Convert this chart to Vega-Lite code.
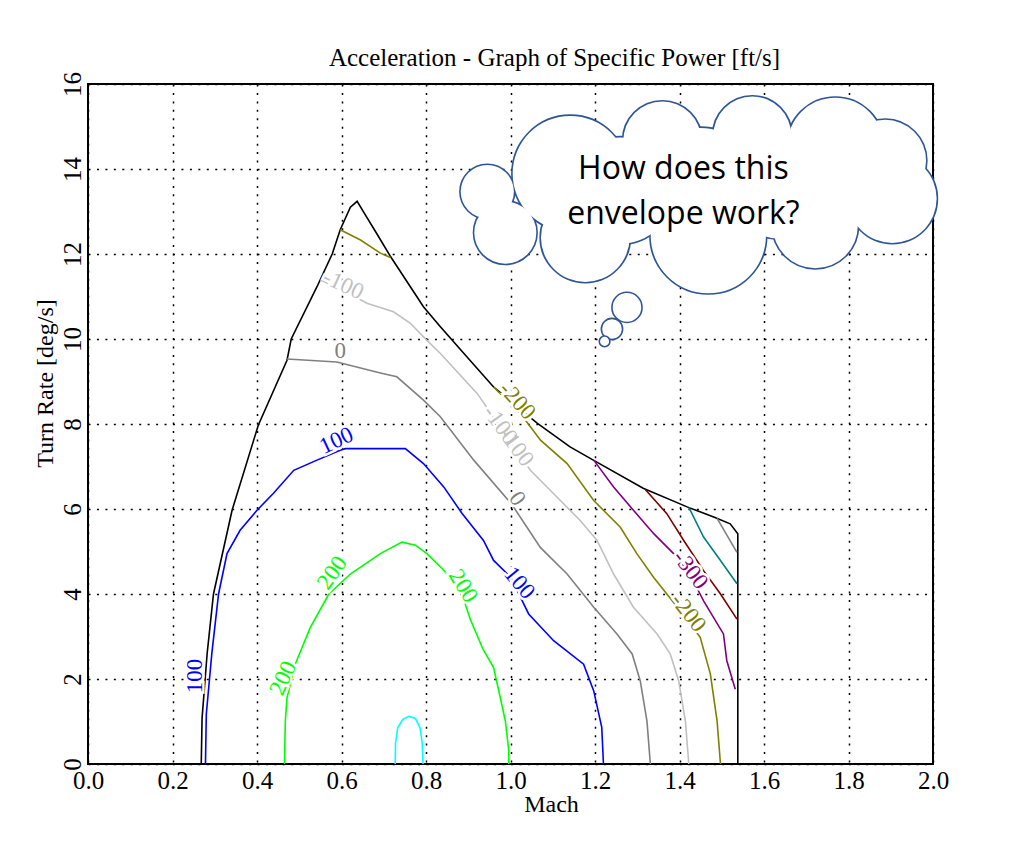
{
  "$schema": "https://vega.github.io/schema/vega-lite/v6.json",
  "width": 845,
  "height": 680,
  "autosize": {"type": "none"},
  "padding": {"left": 88, "top": 84, "right": 89, "bottom": 88},
  "background": "white",
  "title": {"text": "Acceleration - Graph of Specific Power [ft/s]", "font": "Liberation Serif", "fontSize": 25, "fontWeight": "normal", "color": "black", "anchor": "middle", "frame": "group", "dx": 44, "dy": 35, "offset": 16, "baseline": "alphabetic"},
  "config": {
    "view": {"stroke": "black", "strokeWidth": 2},
    "axis": {"domain": false, "ticks": false, "tickSize": 0, "grid": true, "gridColor": "black", "gridDash": [2, 6.45], "gridWidth": 1.5, "gridOpacity": 1, "labelFont": "Liberation Serif", "labelFontSize": 25, "labelColor": "black", "titleFont": "Liberation Serif", "titleFontSize": 24, "titleFontWeight": "normal", "titleColor": "black", "labelFlush": false, "labelOverlap": false},
    "axisX": {"labelPadding": 4, "labelBaseline": "top", "titleX": 463, "titleY": 47, "titleBaseline": "alphabetic", "titleAlign": "center"},
    "axisY": {"labelAngle": 270, "labelAlign": "center", "labelBaseline": "alphabetic", "labelPadding": 8, "titleAngle": 270, "titleX": -36, "titleY": 299, "titleAlign": "center", "titleBaseline": "alphabetic"}
  },
  "datasets": {
    "lines": [
      {"lvl":"env","seg":"env","o":1,"m":0.268,"t":0},
      {"lvl":"env","seg":"env","o":2,"m":0.270,"t":1.08},
      {"lvl":"env","seg":"env","o":3,"m":0.282,"t":2.6},
      {"lvl":"env","seg":"env","o":4,"m":0.297,"t":4.0},
      {"lvl":"env","seg":"env","o":5,"m":0.341,"t":5.97},
      {"lvl":"env","seg":"env","o":6,"m":0.403,"t":7.97},
      {"lvl":"env","seg":"env","o":7,"m":0.471,"t":9.5},
      {"lvl":"env","seg":"env","o":8,"m":0.481,"t":10.0},
      {"lvl":"env","seg":"env","o":9,"m":0.542,"t":11.23},
      {"lvl":"env","seg":"env","o":10,"m":0.578,"t":12.0},
      {"lvl":"env","seg":"env","o":11,"m":0.597,"t":12.57},
      {"lvl":"env","seg":"env","o":12,"m":0.621,"t":13.1},
      {"lvl":"env","seg":"env","o":13,"m":0.637,"t":13.24},
      {"lvl":"env","seg":"env","o":14,"m":0.660,"t":12.86},
      {"lvl":"env","seg":"env","o":15,"m":0.684,"t":12.47},
      {"lvl":"env","seg":"env","o":16,"m":0.716,"t":11.94},
      {"lvl":"env","seg":"env","o":17,"m":0.794,"t":10.76},
      {"lvl":"env","seg":"env","o":18,"m":0.834,"t":10.29},
      {"lvl":"env","seg":"env","o":19,"m":0.905,"t":9.49},
      {"lvl":"env","seg":"env","o":20,"m":0.960,"t":8.87},
      {"lvl":"env","seg":"env","o":21,"m":1.063,"t":8.02},
      {"lvl":"env","seg":"env","o":22,"m":1.141,"t":7.46},
      {"lvl":"env","seg":"env","o":23,"m":1.196,"t":7.15},
      {"lvl":"env","seg":"env","o":24,"m":1.314,"t":6.49},
      {"lvl":"env","seg":"env","o":25,"m":1.418,"t":6.05},
      {"lvl":"env","seg":"env","o":26,"m":1.481,"t":5.81},
      {"lvl":"env","seg":"env","o":27,"m":1.520,"t":5.65},
      {"lvl":"env","seg":"env","o":28,"m":1.538,"t":5.42},
      {"lvl":"env","seg":"env","o":29,"m":1.538,"t":0},

      {"lvl":"300","seg":"300","o":1,"m":0.727,"t":0},
      {"lvl":"300","seg":"300","o":2,"m":0.728,"t":0.5},
      {"lvl":"300","seg":"300","o":3,"m":0.733,"t":0.85},
      {"lvl":"300","seg":"300","o":4,"m":0.745,"t":1.05},
      {"lvl":"300","seg":"300","o":5,"m":0.760,"t":1.12},
      {"lvl":"300","seg":"300","o":6,"m":0.775,"t":1.07},
      {"lvl":"300","seg":"300","o":7,"m":0.786,"t":0.85},
      {"lvl":"300","seg":"300","o":8,"m":0.791,"t":0.5},
      {"lvl":"300","seg":"300","o":9,"m":0.793,"t":0},

      {"lvl":"200","seg":"200","o":1,"m":0.465,"t":0},
      {"lvl":"200","seg":"200","o":2,"m":0.467,"t":1.0},
      {"lvl":"200","seg":"200","o":3,"m":0.471,"t":1.56},
      {"lvl":"200","seg":"200","o":4,"m":0.491,"t":2.36},
      {"lvl":"200","seg":"200","o":5,"m":0.526,"t":3.21},
      {"lvl":"200","seg":"200","o":6,"m":0.570,"t":4.0},
      {"lvl":"200","seg":"200","o":7,"m":0.621,"t":4.47},
      {"lvl":"200","seg":"200","o":8,"m":0.692,"t":4.95},
      {"lvl":"200","seg":"200","o":9,"m":0.743,"t":5.22},
      {"lvl":"200","seg":"200","o":10,"m":0.775,"t":5.15},
      {"lvl":"200","seg":"200","o":11,"m":0.802,"t":4.95},
      {"lvl":"200","seg":"200","o":12,"m":0.838,"t":4.6},
      {"lvl":"200","seg":"200","o":13,"m":0.865,"t":4.3},
      {"lvl":"200","seg":"200","o":14,"m":0.885,"t":4.0},
      {"lvl":"200","seg":"200","o":15,"m":0.905,"t":3.4},
      {"lvl":"200","seg":"200","o":16,"m":0.935,"t":2.7},
      {"lvl":"200","seg":"200","o":17,"m":0.960,"t":2.27},
      {"lvl":"200","seg":"200","o":18,"m":0.975,"t":1.6},
      {"lvl":"200","seg":"200","o":19,"m":0.988,"t":1.0},
      {"lvl":"200","seg":"200","o":20,"m":0.996,"t":0.3},
      {"lvl":"200","seg":"200","o":21,"m":0.996,"t":0},

      {"lvl":"100","seg":"100","o":1,"m":0.278,"t":0},
      {"lvl":"100","seg":"100","o":2,"m":0.280,"t":1.17},
      {"lvl":"100","seg":"100","o":3,"m":0.293,"t":2.59},
      {"lvl":"100","seg":"100","o":4,"m":0.309,"t":4.0},
      {"lvl":"100","seg":"100","o":5,"m":0.329,"t":4.95},
      {"lvl":"100","seg":"100","o":6,"m":0.360,"t":5.5},
      {"lvl":"100","seg":"100","o":7,"m":0.400,"t":5.97},
      {"lvl":"100","seg":"100","o":8,"m":0.439,"t":6.37},
      {"lvl":"100","seg":"100","o":9,"m":0.487,"t":6.91},
      {"lvl":"100","seg":"100","o":10,"m":0.542,"t":7.15},
      {"lvl":"100","seg":"100","o":11,"m":0.597,"t":7.38},
      {"lvl":"100","seg":"100","o":12,"m":0.609,"t":7.42},
      {"lvl":"100","seg":"100","o":13,"m":0.751,"t":7.42},
      {"lvl":"100","seg":"100","o":14,"m":0.794,"t":7.07},
      {"lvl":"100","seg":"100","o":15,"m":0.842,"t":6.52},
      {"lvl":"100","seg":"100","o":16,"m":0.885,"t":5.9},
      {"lvl":"100","seg":"100","o":17,"m":0.936,"t":5.26},
      {"lvl":"100","seg":"100","o":18,"m":0.960,"t":4.79},
      {"lvl":"100","seg":"100","o":19,"m":1.000,"t":4.4},
      {"lvl":"100","seg":"100","o":20,"m":1.043,"t":3.53},
      {"lvl":"100","seg":"100","o":21,"m":1.102,"t":2.9},
      {"lvl":"100","seg":"100","o":22,"m":1.173,"t":2.35},
      {"lvl":"100","seg":"100","o":23,"m":1.197,"t":1.72},
      {"lvl":"100","seg":"100","o":24,"m":1.216,"t":0.86},
      {"lvl":"100","seg":"100","o":25,"m":1.220,"t":0},

      {"lvl":"0","seg":"0","o":1,"m":0.471,"t":9.53},
      {"lvl":"0","seg":"0","o":2,"m":0.589,"t":9.46},
      {"lvl":"0","seg":"0","o":3,"m":0.692,"t":9.2},
      {"lvl":"0","seg":"0","o":4,"m":0.731,"t":9.11},
      {"lvl":"0","seg":"0","o":5,"m":0.794,"t":8.56},
      {"lvl":"0","seg":"0","o":6,"m":0.834,"t":8.17},
      {"lvl":"0","seg":"0","o":7,"m":0.913,"t":7.15},
      {"lvl":"0","seg":"0","o":8,"m":1.003,"t":6.11},
      {"lvl":"0","seg":"0","o":9,"m":1.071,"t":5.09},
      {"lvl":"0","seg":"0","o":10,"m":1.134,"t":4.47},
      {"lvl":"0","seg":"0","o":11,"m":1.197,"t":3.69},
      {"lvl":"0","seg":"0","o":12,"m":1.252,"t":3.06},
      {"lvl":"0","seg":"0","o":13,"m":1.288,"t":2.59},
      {"lvl":"0","seg":"0","o":14,"m":1.307,"t":1.96},
      {"lvl":"0","seg":"0","o":15,"m":1.323,"t":1.01},
      {"lvl":"0","seg":"0","o":16,"m":1.331,"t":0},

      {"lvl":"-100","seg":"-100","o":1,"m":0.550,"t":11.39},
      {"lvl":"-100","seg":"-100","o":2,"m":0.604,"t":11.15},
      {"lvl":"-100","seg":"-100","o":3,"m":0.660,"t":10.84},
      {"lvl":"-100","seg":"-100","o":4,"m":0.723,"t":10.64},
      {"lvl":"-100","seg":"-100","o":5,"m":0.763,"t":10.37},
      {"lvl":"-100","seg":"-100","o":6,"m":0.794,"t":10.05},
      {"lvl":"-100","seg":"-100","o":7,"m":0.834,"t":9.66},
      {"lvl":"-100","seg":"-100","o":8,"m":0.858,"t":9.4},
      {"lvl":"-100","seg":"-100","o":9,"m":0.921,"t":8.72},
      {"lvl":"-100","seg":"-100","o":10,"m":0.985,"t":7.8},
      {"lvl":"-100","seg":"-100","o":11,"m":1.047,"t":6.91},
      {"lvl":"-100","seg":"-100","o":12,"m":1.094,"t":6.44},
      {"lvl":"-100","seg":"-100","o":13,"m":1.165,"t":5.73},
      {"lvl":"-100","seg":"-100","o":14,"m":1.205,"t":5.26},
      {"lvl":"-100","seg":"-100","o":15,"m":1.244,"t":4.47},
      {"lvl":"-100","seg":"-100","o":16,"m":1.291,"t":3.69},
      {"lvl":"-100","seg":"-100","o":17,"m":1.347,"t":3.06},
      {"lvl":"-100","seg":"-100","o":18,"m":1.378,"t":2.59},
      {"lvl":"-100","seg":"-100","o":19,"m":1.398,"t":1.96},
      {"lvl":"-100","seg":"-100","o":20,"m":1.414,"t":1.01},
      {"lvl":"-100","seg":"-100","o":21,"m":1.422,"t":0},

      {"lvl":"-200","seg":"-200top","o":1,"m":0.597,"t":12.57},
      {"lvl":"-200","seg":"-200top","o":2,"m":0.645,"t":12.33},
      {"lvl":"-200","seg":"-200top","o":3,"m":0.692,"t":12.02},
      {"lvl":"-200","seg":"-200top","o":4,"m":0.716,"t":11.92},

      {"lvl":"-200","seg":"-200","o":1,"m":0.960,"t":8.87},
      {"lvl":"-200","seg":"-200","o":2,"m":1.023,"t":8.25},
      {"lvl":"-200","seg":"-200","o":3,"m":1.071,"t":7.62},
      {"lvl":"-200","seg":"-200","o":4,"m":1.134,"t":7.07},
      {"lvl":"-200","seg":"-200","o":5,"m":1.197,"t":6.2},
      {"lvl":"-200","seg":"-200","o":6,"m":1.260,"t":5.57},
      {"lvl":"-200","seg":"-200","o":7,"m":1.299,"t":4.95},
      {"lvl":"-200","seg":"-200","o":8,"m":1.339,"t":4.39},
      {"lvl":"-200","seg":"-200","o":9,"m":1.370,"t":4.0},
      {"lvl":"-200","seg":"-200","o":10,"m":1.410,"t":3.5},
      {"lvl":"-200","seg":"-200","o":11,"m":1.449,"t":2.98},
      {"lvl":"-200","seg":"-200","o":12,"m":1.473,"t":2.12},
      {"lvl":"-200","seg":"-200","o":13,"m":1.489,"t":1.01},
      {"lvl":"-200","seg":"-200","o":14,"m":1.497,"t":0},

      {"lvl":"-300","seg":"-300","o":1,"m":1.197,"t":7.15},
      {"lvl":"-300","seg":"-300","o":2,"m":1.244,"t":6.52},
      {"lvl":"-300","seg":"-300","o":3,"m":1.291,"t":5.97},
      {"lvl":"-300","seg":"-300","o":4,"m":1.339,"t":5.42},
      {"lvl":"-300","seg":"-300","o":5,"m":1.386,"t":4.95},
      {"lvl":"-300","seg":"-300","o":6,"m":1.425,"t":4.45},
      {"lvl":"-300","seg":"-300","o":7,"m":1.457,"t":3.84},
      {"lvl":"-300","seg":"-300","o":8,"m":1.504,"t":3.06},
      {"lvl":"-300","seg":"-300","o":9,"m":1.512,"t":2.43},
      {"lvl":"-300","seg":"-300","o":10,"m":1.532,"t":1.76},

      {"lvl":"-400","seg":"-400","o":1,"m":1.319,"t":6.46},
      {"lvl":"-400","seg":"-400","o":2,"m":1.370,"t":5.89},
      {"lvl":"-400","seg":"-400","o":3,"m":1.410,"t":5.26},
      {"lvl":"-400","seg":"-400","o":4,"m":1.457,"t":4.55},
      {"lvl":"-400","seg":"-400","o":5,"m":1.497,"t":4.0},
      {"lvl":"-400","seg":"-400","o":6,"m":1.536,"t":3.41},

      {"lvl":"-500","seg":"-500","o":1,"m":1.422,"t":6.04},
      {"lvl":"-500","seg":"-500","o":2,"m":1.457,"t":5.34},
      {"lvl":"-500","seg":"-500","o":3,"m":1.497,"t":4.79},
      {"lvl":"-500","seg":"-500","o":4,"m":1.536,"t":4.24},

      {"lvl":"-600","seg":"-600","o":1,"m":1.489,"t":5.78},
      {"lvl":"-600","seg":"-600","o":2,"m":1.536,"t":4.98}
    ],
    "labels": [
      {"m":0.604,"t":11.28,"txt":"-100","lvl":"-100","a":25},
      {"m":0.597,"t":9.72,"txt":"0","lvl":"0","a":0},
      {"m":0.588,"t":7.61,"txt":"100","lvl":"100","a":-25},
      {"m":0.254,"t":2.07,"txt":"100","lvl":"100","a":-90},
      {"m":0.462,"t":2.02,"txt":"200","lvl":"200","a":-65},
      {"m":0.578,"t":4.50,"txt":"200","lvl":"200","a":-55},
      {"m":0.888,"t":4.19,"txt":"200","lvl":"200","a":58},
      {"m":1.021,"t":4.26,"txt":"100","lvl":"100","a":50},
      {"m":1.016,"t":6.24,"txt":"0","lvl":"0","a":55},
      {"m":0.976,"t":7.98,"txt":"-100","lvl":"-100","a":54},
      {"m":1.014,"t":7.46,"txt":"-100","lvl":"-100","a":54},
      {"m":1.016,"t":8.55,"txt":"-200","lvl":"-200","a":48},
      {"m":1.426,"t":4.57,"txt":"-300","lvl":"-300","a":52},
      {"m":1.421,"t":3.56,"txt":"-200","lvl":"-200","a":52}
    ],
    "cloud": [
      {"b":"K","m":0.9451,"t":13.468},
      {"b":"J","m":0.9877,"t":12.503},
      {"b":"A","m":1.1415,"t":13.892},
      {"b":"B","m":1.3593,"t":14.669},
      {"b":"C","m":1.5723,"t":14.787},
      {"b":"D","m":1.7688,"t":14.551},
      {"b":"E","m":1.8871,"t":14.198},
      {"b":"F","m":1.9037,"t":13.303},
      {"b":"G","m":1.7214,"t":12.668},
      {"b":"H","m":1.4682,"t":12.432},
      {"b":"I","m":1.1770,"t":12.385},
      {"b":"P1","m":1.2599,"t":13.492},
      {"b":"P2","m":1.4492,"t":13.610},
      {"b":"P3","m":1.6386,"t":13.610},
      {"b":"Q","m":1.7688,"t":13.374}
    ],
    "bubbles": [
      {"b":"b1","m":1.2757,"t":10.744},
      {"b":"b2","m":1.2402,"t":10.235},
      {"b":"b3","m":1.2227,"t":9.944}
    ],
    "thought": [
      {"m":1.4093,"t":14.01,"txt":"How does this"},
      {"m":1.4093,"t":12.95,"txt":"envelope work?"}
    ]
  },
  "encoding": {
    "x": {"field": "m", "type": "quantitative", "scale": {"domain": [0, 2], "nice": false, "zero": false}, "axis": {"title": "Mach", "values": [0, 0.2, 0.4, 0.6, 0.8, 1.0, 1.2, 1.4, 1.6, 1.8, 2.0], "format": ".1f"}},
    "y": {"field": "t", "type": "quantitative", "scale": {"domain": [0, 16], "nice": false, "zero": false}, "axis": {"title": "Turn Rate [deg/s]", "values": [0, 2, 4, 6, 8, 10, 12, 14, 16], "format": "d"}}
  },
  "layer": [
    {
      "data": {"name": "lines"},
      "mark": {"type": "line", "strokeWidth": 1.6, "interpolate": "linear"},
      "encoding": {
        "detail": {"field": "seg", "type": "nominal"},
        "order": {"field": "o", "type": "quantitative"},
        "color": {"field": "lvl", "type": "nominal", "legend": null, "scale": {"domain": ["env", "300", "200", "100", "0", "-100", "-200", "-300", "-400", "-500", "-600"], "range": ["#000000", "#00FFFF", "#00FF00", "#0000FF", "#808080", "#C0C0C0", "#808000", "#800080", "#800000", "#008080", "#808080"]}}
      }
    },
    {
      "data": {"name": "labels"},
      "mark": {"type": "text", "font": "Liberation Serif", "fontSize": 23, "align": "center", "baseline": "middle", "fill": "white", "stroke": "white", "strokeWidth": 5},
      "encoding": {
        "text": {"field": "txt", "type": "nominal"},
        "angle": {"field": "a", "type": "quantitative", "scale": null}
      }
    },
    {
      "data": {"name": "labels"},
      "mark": {"type": "text", "font": "Liberation Serif", "fontSize": 23, "align": "center", "baseline": "middle"},
      "encoding": {
        "text": {"field": "txt", "type": "nominal"},
        "angle": {"field": "a", "type": "quantitative", "scale": null},
        "color": {"field": "lvl", "type": "nominal", "legend": null}
      }
    },
    {
      "data": {"name": "cloud"},
      "mark": {"type": "point", "shape": "circle", "filled": false, "stroke": "#2F5597", "strokeWidth": 3.2, "opacity": 1},
      "encoding": {
        "size": {"field": "b", "type": "nominal", "legend": null, "scale": {"type": "ordinal", "domain": ["A", "B", "C", "D", "E", "F", "G", "H", "I", "J", "K", "P1", "P2", "P3", "Q", "b1", "b2", "b3"], "range": [13273, 6082, 6082, 9161, 6648, 7854, 7238, 13273, 7854, 3848, 2827, 11310, 13273, 11310, 2827, 908, 452, 113]}}
      }
    },
    {
      "data": {"name": "cloud"},
      "mark": {"type": "point", "shape": "circle", "filled": true, "fill": "white", "strokeWidth": 0, "opacity": 1},
      "encoding": {
        "size": {"field": "b", "type": "nominal", "legend": null, "scale": {"type": "ordinal", "domain": ["A", "B", "C", "D", "E", "F", "G", "H", "I", "J", "K", "P1", "P2", "P3", "Q", "b1", "b2", "b3"], "range": [13273, 6082, 6082, 9161, 6648, 7854, 7238, 13273, 7854, 3848, 2827, 11310, 13273, 11310, 2827, 908, 452, 113]}}
      }
    },
    {
      "data": {"name": "bubbles"},
      "mark": {"type": "point", "shape": "circle", "filled": true, "fill": "white", "stroke": "#2F5597", "strokeWidth": 1.6, "opacity": 1},
      "encoding": {
        "size": {"field": "b", "type": "nominal", "legend": null, "scale": {"type": "ordinal", "domain": ["A", "B", "C", "D", "E", "F", "G", "H", "I", "J", "K", "P1", "P2", "P3", "Q", "b1", "b2", "b3"], "range": [13273, 6082, 6082, 9161, 6648, 7854, 7238, 13273, 7854, 3848, 2827, 11310, 13273, 11310, 2827, 908, 452, 113]}}
      }
    },
    {
      "data": {"name": "thought"},
      "mark": {"type": "text", "font": "Open Sans", "fontSize": 32, "align": "center", "baseline": "middle", "color": "black"},
      "encoding": {
        "text": {"field": "txt", "type": "nominal"}
      }
    }
  ]
}
